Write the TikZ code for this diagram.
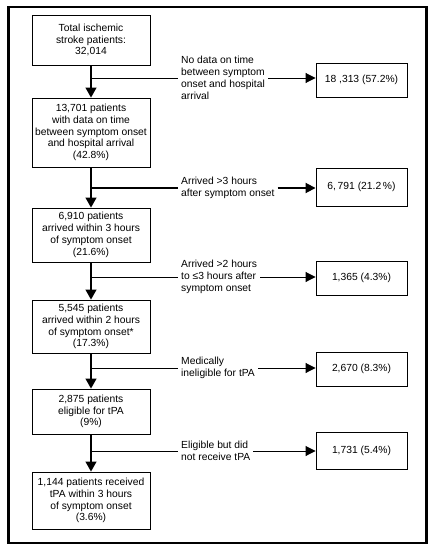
\documentclass[tikz,border=0pt]{standalone}
\usepackage{fontspec}
\setmainfont{Liberation Sans}
\usetikzlibrary{arrows.meta,calc}
\begin{document}
\begin{tikzpicture}[x=1pt,y=-1pt,
  every node/.style={font=\fontsize{10.3}{11.8}\selectfont},
  lbox/.style={draw,line width=0.9pt,minimum width=118pt,align=center,inner sep=0pt},
  rbox/.style={draw,line width=0.9pt,minimum width=91pt,align=center,inner sep=0pt},
  lab/.style={align=left,inner sep=3pt,anchor=west},
  flow/.style={line width=1.3pt,-{Triangle[length=10pt,width=11pt]}},
  branch/.style={line width=0.9pt},
  thickbranch/.style={line width=1.8pt},
  harr/.style={line width=0.9pt,-{Triangle[length=10pt,width=10pt]}}]
\useasboundingbox (0,0) rectangle (432,548);
\node[draw,line width=2.6pt,minimum width=418pt,minimum height=536pt,inner sep=0pt] (frame) at (217.5,275) {};

% left column
\node[lbox,minimum height=50pt] (b1) at (91,40) {Total ischemic\\stroke patients:\\32,014};
\node[lbox,minimum height=69pt] (b2) at (91,132.5) {13,701 patients\\with data on time\\between symptom onset\\and hospital arrival\\(42.8\%)};
\node[lbox,minimum height=54pt] (b3) at (91,235) {6,910 patients\\arrived within 3 hours\\of symptom onset\\(21.6\%)};
\node[lbox,minimum height=53pt] (b4) at (91,326.5) {5,545 patients\\arrived within 2 hours\\of symptom onset*\\(17.3\%)};
\node[lbox,minimum height=45pt] (b5) at (91,411.5) {2,875 patients\\eligible for tPA\\(9\%)};
\node[lbox,minimum height=57pt] (b6) at (91,500.5) {1,144 patients received\\tPA within 3 hours\\of symptom onset\\(3.6\%)};

% right column
\node[rbox,minimum height=34pt] (r1) at (361.5,80) {18 ,313 (57.2\%)};
\node[rbox,minimum height=38pt] (r2) at (361.5,187) {6,\,791 (21.2\,\%)};
\node[rbox,minimum height=34pt] (r3) at (361.5,278) {1,365 (4.3\%)};
\node[rbox,minimum height=34pt] (r4) at (361.5,369) {2,670 (8.3\%)};
\node[rbox,minimum height=37pt] (r5) at (361.5,450.5) {1,731 (5.4\%)};

% labels
\node[lab] (l1) at (178,78) {No data on time\\between symptom\\onset and hospital\\arrival};
\node[lab] (l2) at (178,188) {Arrived >3 hours\\after symptom onset};
\node[lab] (l3) at (178,277) {Arrived >2 hours\\to ≤3 hours after\\symptom onset};
\node[lab] (l4) at (178,368) {Medically\\ineligible for tPA};
\node[lab] (l5) at (178,451) {Eligible but did\\not receive tPA};

% main flow
\draw[flow] (b1) -- (b2);
\draw[flow] (b2) -- (b3);
\draw[flow] (b3) -- (b4);
\draw[flow] (b4) -- (b5);
\draw[flow] (b5) -- (b6);

% branches
\coordinate (j1) at (b1.south |- l1.west);
\coordinate (j2) at (b2.south |- l2.west);
\coordinate (j3) at (b3.south |- l3.west);
\coordinate (j4) at (b4.south |- l4.west);
\coordinate (j5) at (b5.south |- l5.west);
\draw[branch] (j1) -- (l1.west);
\draw[harr] (l1.east) -- (l1.east -| r1.west);
\draw[thickbranch] (j2) -- (l2.west);
\draw[harr,line width=1.8pt] (l2.east) -- (l2.east -| r2.west);
\draw[branch] (j3) -- (l3.west);
\draw[harr] (l3.east) -- (l3.east -| r3.west);
\draw[branch] (j4) -- (l4.west);
\draw[harr] (l4.east) -- (l4.east -| r4.west);
\draw[branch] (j5) -- (l5.west);
\draw[harr] (l5.east) -- (l5.east -| r5.west);
\end{tikzpicture}
\end{document}
